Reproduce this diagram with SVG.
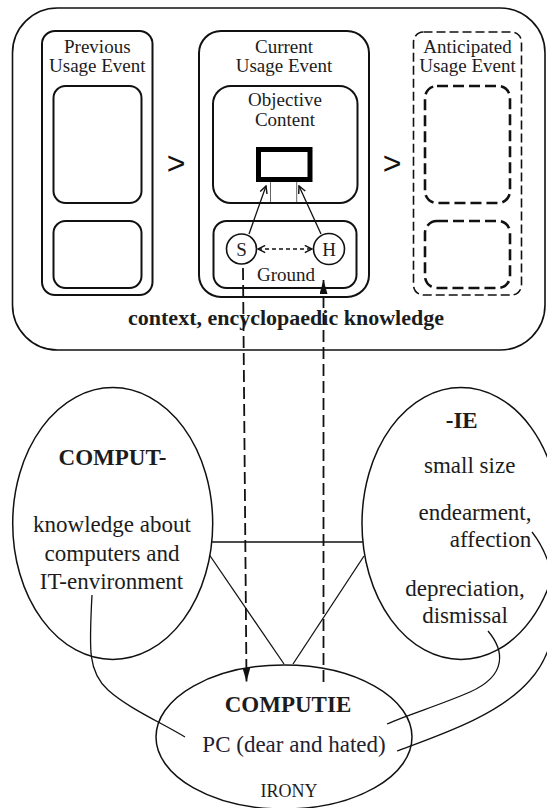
<svg xmlns="http://www.w3.org/2000/svg" width="547" height="808" viewBox="0 0 547 808">
<style>
.box{fill:none;stroke:#111;stroke-width:2}
.outer{fill:none;stroke:#111;stroke-width:1.6}
.dsh{fill:none;stroke:#111;stroke-width:2.6;stroke-dasharray:11 5}
.dshO{fill:none;stroke:#111;stroke-width:1.6;stroke-dasharray:9 4}
.t{font-family:"Liberation Serif","Times New Roman",serif;fill:#1c1c1c;text-anchor:middle}
.s19{font-size:19px}
.s23{font-size:23px}
.b{font-weight:bold}
.ell{fill:none;stroke:#111;stroke-width:1.5}
.ln{fill:none;stroke:#111;stroke-width:1.3}
.vd{fill:none;stroke:#111;stroke-width:1.8;stroke-dasharray:12 5}
</style>
<defs>
<marker id="open" viewBox="0 0 10 10" refX="9" refY="5" markerWidth="9" markerHeight="9" markerUnits="userSpaceOnUse" orient="auto-start-reverse">
<path d="M1,1 L9,5 L1,9" fill="none" stroke="#111" stroke-width="1.6"/>
</marker>
<marker id="fill" viewBox="0 0 14 8" refX="14" refY="4" markerWidth="14" markerHeight="8" markerUnits="userSpaceOnUse" orient="auto">
<path d="M0,0 L14,4 L0,8 z" fill="#111"/>
</marker>
</defs>

<g id="context">
<rect class="outer" x="12.5" y="8" width="532.5" height="342" rx="45"/>
<text class="t b" x="286" y="325" style="font-size:22px">context, encyclopaedic knowledge</text>
</g>

<g id="previous">
<rect class="box" x="42" y="31" width="110.5" height="264" rx="13"/>
<rect class="box" x="53.5" y="86" width="88" height="117" rx="12"/>
<rect class="box" x="53.5" y="221" width="88" height="67" rx="12"/>
<text class="t s19" x="97.3" y="53">Previous</text>
<text class="t s19" x="97.3" y="72">Usage Event</text>
</g>

<g id="seq1"><text x="176" y="174" style="font-family:'Liberation Sans',Arial,sans-serif;font-size:32px;fill:#111;text-anchor:middle">&gt;</text></g>

<g id="current">
<rect class="box" x="199" y="31" width="170" height="266" rx="22"/>
<text class="t s19" x="284" y="53">Current</text>
<text class="t s19" x="284" y="72">Usage Event</text>
</g>

<g id="objective">
<rect class="box" x="213" y="86" width="144.5" height="117" rx="18"/>
<text class="t s19" x="285" y="106">Objective</text>
<text class="t s19" x="285" y="126">Content</text>
<rect x="258.5" y="149.5" width="51.5" height="30" fill="#fff" stroke="#000" stroke-width="5"/>
</g>

<g id="ground">
<rect class="box" x="213.5" y="221" width="143" height="67" rx="13"/>
<text class="t s19" x="286" y="281">Ground</text>
</g>
<g id="S">
<circle cx="241.5" cy="249" r="15" fill="#fff" stroke="#111" stroke-width="1.6"/>
<text class="t s19" x="241.5" y="255.5">S</text>
</g>
<g id="H">
<circle cx="329" cy="249" r="15.5" fill="#fff" stroke="#111" stroke-width="1.6"/>
<text class="t s19" x="329" y="255.5">H</text>
</g>

<g id="seq2"><text x="392" y="174" style="font-family:'Liberation Sans',Arial,sans-serif;font-size:32px;fill:#111;text-anchor:middle">&gt;</text></g>

<g id="anticipated">
<rect class="dshO" x="413.5" y="32" width="108" height="263" rx="10"/>
<rect class="dsh" x="425" y="86" width="85" height="117" rx="12"/>
<rect class="dsh" x="425" y="221" width="85" height="67" rx="12"/>
<text class="t s19" x="467.5" y="53">Anticipated</text>
<text class="t s19" x="467.5" y="72">Usage Event</text>
</g>

<g id="comput">
<ellipse class="ell" cx="112.7" cy="523.5" rx="100" ry="136"/>
<text class="t s23 b" x="112.5" y="465">COMPUT-</text>
<text class="t s23" x="112" y="532">knowledge about</text>
<text class="t s23" x="112" y="560.5">computers and</text>
<text class="t s23" x="111.5" y="589">IT-environment</text>
</g>

<g id="ie">
<ellipse class="ell" cx="461" cy="523.5" rx="99" ry="136"/>
<text class="t s23 b" x="461.7" y="428">-IE</text>
<text class="t s23" x="469.7" y="473">small size</text>
<text class="t s23" x="475" y="520">endearment,</text>
<text class="t s23" x="490.5" y="546.5">affection</text>
<text class="t s23" x="465" y="596">depreciation,</text>
<text class="t s23" x="465" y="623">dismissal</text>
</g>

<g id="computie">
<ellipse class="ell" cx="284" cy="737" rx="128" ry="72"/>
<text class="t s23 b" x="288" y="712">COMPUTIE</text>
<text class="t s23" x="294" y="752" style="fill:#1f2230">PC (dear and hated)</text>
<text class="t" x="289" y="797" style="font-size:18px">IRONY</text>
</g>

<g id="connectors">
<line class="ln" x1="249" y1="234" x2="266" y2="186" marker-end="url(#open)"/>
<line class="ln" x1="321" y1="234" x2="299" y2="186" marker-end="url(#open)"/>
<line x1="270.5" y1="182" x2="270.5" y2="202" stroke="#666" stroke-width="1"/>
<line x1="296.7" y1="182" x2="296.7" y2="202" stroke="#666" stroke-width="1"/>
<line class="ln" x1="258" y1="249" x2="312" y2="249" stroke-dasharray="4 3" marker-start="url(#open)" marker-end="url(#open)"/>
<path class="vd" d="M243 268 L246.5 681.5" marker-end="url(#fill)"/>
<path class="vd" d="M323.5 682 L323.5 280" marker-end="url(#fill)"/>
<line class="ln" x1="211.8" y1="542" x2="362.9" y2="542"/>
<line class="ln" x1="209.5" y1="555" x2="284" y2="664"/>
<line class="ln" x1="364" y1="556" x2="293" y2="664"/>
<path class="ln" d="M92 595 C89 650 88 672 108 690 S160 722 185 737"/>
<path class="ln" d="M488 631 C504 650 508 675 470 692 C440 705 410 714 387 724"/>
<path class="ln" d="M532 532 C562 570 566 640 530 680 C500 715 440 735 397 751"/>
</g>
</svg>
